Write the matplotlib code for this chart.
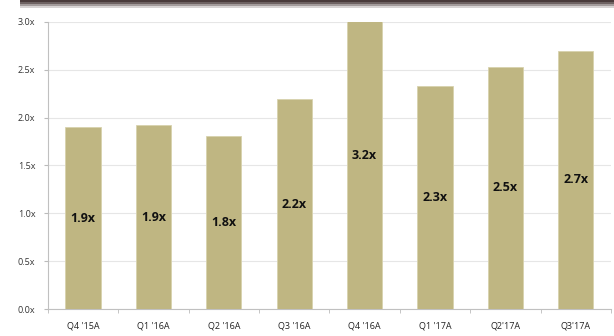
import matplotlib
matplotlib.use("Agg")
import matplotlib.pyplot as plt
from matplotlib.patches import Rectangle
import numpy as np

categories = ["Q4 '15A", "Q1 '16A", "Q2 '16A", "Q3 '16A", "Q4 '16A", "Q1 '17A", "Q2'17A", "Q3'17A"]
values = [1.90, 1.92, 1.81, 2.19, 3.2, 2.33, 2.53, 2.70]
labels = ["1.9x", "1.9x", "1.8x", "2.2x", "3.2x", "2.3x", "2.5x", "2.7x"]
yticks = [0.0, 0.5, 1.0, 1.5, 2.0, 2.5, 3.0]
ytick_labels = ["0.0x", "0.5x", "1.0x", "1.5x", "2.0x", "2.5x", "3.0x"]

plt.rcParams['font.family'] = ['Open Sans', 'DejaVu Sans']

fig = plt.figure(figsize=(6.14, 3.36), dpi=100)
fig.patch.set_facecolor('white')

# top dark shadowed band
for y0, c in [(0.994, '#4a3b3b'), (0.988, '#6e6262'), (0.982, '#a39b9b'), (0.976, '#d8d4d4')]:
    fig.patches.append(Rectangle((0.033, y0), 0.967, 0.006, transform=fig.transFigure,
                                 facecolor=c, edgecolor='none', zorder=0))

ax = fig.add_axes([0.078, 0.080, 0.917, 0.855])
x = np.arange(len(categories))
ax.bar(x, values, width=0.5, color='#bfb682', edgecolor='#d8d2ae', linewidth=0.6, zorder=3)

for xi, v, lab in zip(x, values, labels):
    ax.text(xi, v / 2, lab, ha='center', va='center', fontsize=9, fontweight='bold',
            color='#111111', zorder=4)

ax.set_xlim(-0.5, len(categories) - 0.5)
ax.set_ylim(0, 3.0)
ax.set_yticks(yticks)
ax.set_yticklabels(ytick_labels, fontsize=6.5, color='#333333')
ax.set_xticks(x)
ax.set_xticklabels(categories, fontsize=6.5, color='#222222')
ax.set_xticks(np.arange(-0.5, len(categories) + 0.5, 1), minor=True)
ax.tick_params(axis='x', which='major', length=0, pad=9)
ax.tick_params(axis='x', which='minor', length=3, color='#bbbbbb')
ax.tick_params(axis='y', length=3, color='#bbbbbb', pad=6)

ax.yaxis.grid(True, color='#e6e6e6', linewidth=0.8, zorder=0)
ax.set_axisbelow(True)
for s in ['top', 'right']:
    ax.spines[s].set_visible(False)
for s in ['left', 'bottom']:
    ax.spines[s].set_color('#c0c0c0')
    ax.spines[s].set_linewidth(0.8)

fig.savefig('out.png', dpi=100, facecolor='white')
